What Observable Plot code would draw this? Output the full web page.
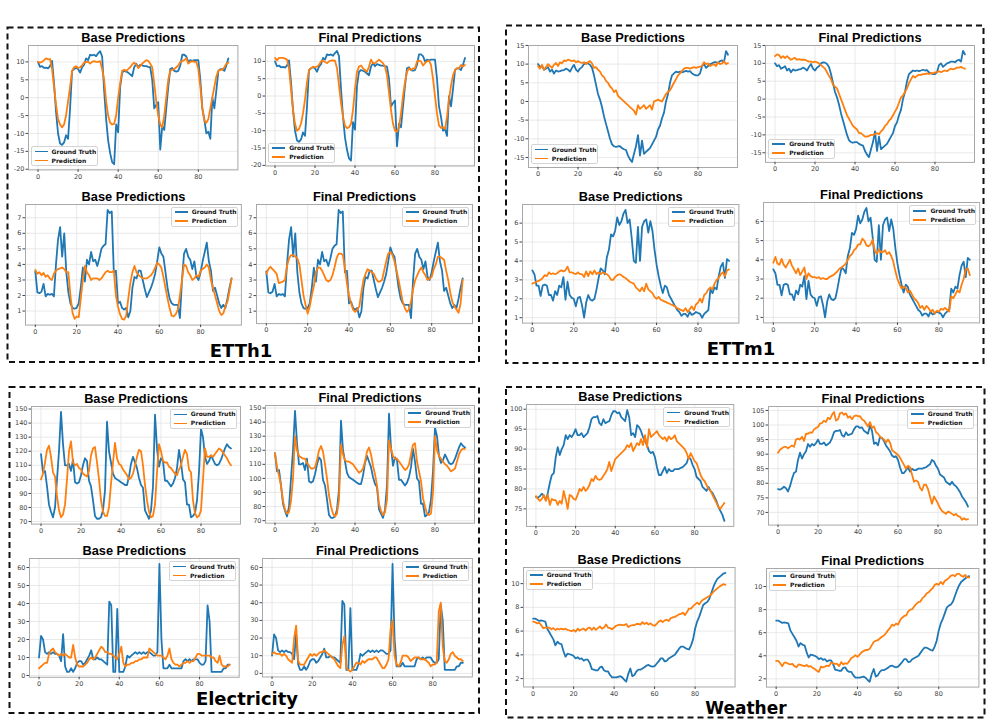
<!DOCTYPE html>
<html>
<head>
<meta charset="utf-8">
<title>Base vs final predictions</title>
<script src="https://cdn.jsdelivr.net/npm/d3@7"></script>
<script src="https://cdn.jsdelivr.net/npm/@observablehq/plot@0.6"></script>
<style>
  html, body { margin: 0; padding: 0; background: #fff; }
  #page { position: relative; width: 992px; height: 726px; overflow: hidden; background: #fff; }
  .legend { position: absolute; box-sizing: border-box; width: 67px; height: 20px; background: rgba(255,255,255,0.85);
            border: 1px solid #d4d4d4; border-radius: 2px; font: bold 6px "DejaVu Sans", sans-serif; color: #111; }
  .legend .sw { position: absolute; left: 3px; width: 13px; height: 1.8px; }
  .legend .lb { position: absolute; left: 20px; line-height: 6px; white-space: nowrap; }
  #overlay { position: absolute; left: 0; top: 0; pointer-events: none; }
</style>
</head>
<body>
<div id="page"></div>
<script>
// ---------- time axis ----------
const xTicks = [0, 20, 40, 60, 80];

// ---------- ETTh1 ----------
const etth1TopTicks = [-20, -15, -10, -5, 0, 5, 10];
const etth1TopTruth = [
  10, 8.6, 8.8, 8.3, 8.4, 8.2, 8.8, 10.3, 4, -4,
  -10, -12.8, -13.2, -12.5, -10.5, -11.5, -3, 7.5, 8, 8.3,
  8, 7, 8.5, 9.2, 11, 10.5, 12, 11.8, 12, 11.6,
  12.4, 13, 11.5, 2, -6, -12, -15.5, -18, -18.6, -7.5,
  -9.7, 3, 7, 7.5, 7.3, 7, 6.5, 6, 8.5, 9.5,
  8.6, 9.2, 9, 8.8, 8.8, 8.6, 8.5, 5, -3, -2,
  -1.3, -14.5, -8, -9, -3, 3, 8, 8.3, 7.5, 7.3,
  7.5, 9, 12, 12, 11.5, 10, 10.5, 10.3, 10.5, 10.5,
  10.5, 5, -3, -6, -10, -9.5, -11.5, 0, -3, 2,
  7.5, 8, 8, 7.5, 9, 11
];
const etth1TopBase = [
  10, 9.8, 10, 10.5, 11, 10.7, 10.8, 8, 3, -2,
  -6, -7.5, -8.3, -7.5, -5, -1, 3, 7.5, 8.5, 8.8,
  8.3, 8.5, 9, 9.8, 10, 10, 9.5, 10, 10.2, 10,
  10, 10.2, 8, 5, -1, -5, -7, -7.5, -7.3, -5,
  0, 4, 7.5, 7.8, 7.5, 8, 8.5, 9.3, 9.8, 9.3,
  8.3, 8.8, 9.5, 10, 10.5, 10.3, 9.5, 8.5, 4, -1,
  -5, -7.5, -8.3, -5, 0, 5, 7.5, 7.8, 8, 8.5,
  9, 10, 10.2, 10.5, 11, 9.5, 10, 10.2, 10, 10,
  8, 3, -3, -6.5, -7, -6, -3, 0, 3, 6,
  7.5, 7.8, 7.8, 8.5, 9.5, 9.8
];
const etth1TopFinal = [
  11, 10.3, 11, 11, 11, 10.8, 10.5, 8, 2, -4,
  -8, -10, -9.5, -8, -5, -1, 4, 7.5, 8, 8.5,
  8.3, 8.5, 9, 10, 10.2, 9.8, 9.5, 10, 10.2, 10.3,
  10.2, 8, 3, -2, -6, -8.5, -9.3, -9, -8, -4,
  2, 7, 8.5, 8.8, 8, 7.5, 7, 8.5, 10.5, 9.5,
  9.5, 10, 10.5, 10, 9.5, 8.5, 6, 1, -4, -8,
  -10, -10.3, -9, -5, 0, 4, 7, 8, 7.5, 8,
  8, 10, 10.2, 10, 8.8, 9.5, 10, 10.2, 9, 5,
  0, -5, -8.5, -9.2, -9, -9.5, -6, -1, 3, 6,
  7.5, 8, 8, 9, 8.5, 9
];
const etth1BottomTicks = [1, 2, 3, 4, 5, 6, 7];
const etth1BottomTruth = [
  3.55, 2.2, 2.15, 2.25, 2.75, 1.95, 2.1, 2.05, 2.1, 1.95,
  4.0, 5.6, 6.4, 4.5, 6.0, 3.5, 2.2, 1.5, 1.2, 1.15,
  1.2, 1.5, 2.5, 3.8, 2.9, 4.3, 4.0, 4.8, 4.2, 4.3,
  3.9, 4.4, 5.0, 5.2, 5.3, 7.5, 7.3, 7.4, 3.5, 3.6,
  1.5, 1.6, 1.2, 1.1, 1.2, 0.6, 1.0, 2.5, 3.2, 3.1,
  3.6, 3.6, 3.0, 2.4, 1.9, 2.2, 2.5, 2.9, 3.4, 4.2,
  5.1, 4.7, 4.5, 3.5, 2.5, 1.8, 1.5, 1.4, 1.4, 1.4,
  0.55, 3.0, 4.7, 5.0, 4.5, 4.3, 3.7, 4.2, 3.2, 3.0,
  3.5, 4.2, 4.8, 5.4, 4.2, 3.6, 2.3, 2.5, 2.0, 1.5,
  1.2, 1.4, 1.2, 1.8, 2.5, 3.1
];
const etth1BottomBase = [
  3.65, 3.4, 3.5, 3.3, 3.45, 3.2, 3.3, 3.1, 3.0, 3.4,
  3.6, 3.7, 3.75, 3.8, 3.7, 3.5, 3.5, 2.0, 0.9, 0.5,
  0.65, 0.6, 1.8, 3.0, 3.9, 3.5, 3.3, 3.0, 3.1, 3.1,
  3.1, 3.0, 3.1, 3.3, 3.5, 3.6, 3.5, 3.5, 3.6, 2.0,
  1.3, 0.8, 0.5, 0.45, 0.7, 1.8, 2.8, 3.5, 3.9, 3.5,
  3.3, 3.2, 3.1, 3.1, 3.1, 3.2, 3.3, 3.5, 3.8, 4.1,
  4.0, 3.8, 3.2, 2.5, 1.8, 1.2, 0.7, 0.65, 0.8, 1.1,
  2.0, 3.0, 4.0, 3.9, 3.5, 3.3, 3.0, 3.1, 3.3, 3.2,
  3.6, 3.7, 3.8, 4.0, 3.8, 3.0, 2.5, 2.0, 1.5, 1.0,
  0.75, 0.85, 1.3, 1.6, 2.3, 3.1
];
const etth1BottomFinal = [
  3.4, 3.7, 3.85, 3.7, 3.55, 3.4, 2.8, 2.85, 2.9, 3.0,
  3.9, 4.4, 4.6, 4.6, 4.5, 4.4, 4.0, 3.0, 2.0, 1.4,
  0.85, 1.3, 2.0, 2.6, 3.5, 3.8, 3.8, 3.6, 3.3, 3.0,
  2.9, 3.0, 3.3, 3.8, 4.4, 4.7, 4.7, 4.6, 3.8, 2.8,
  2.0, 1.5, 1.1, 0.95, 1.1, 1.3, 2.2, 3.0, 3.4, 3.7,
  3.6, 3.5, 3.4, 3.1, 2.9, 2.9, 3.0, 3.6, 4.2, 4.7,
  4.8, 4.6, 4.2, 3.6, 3.0, 2.3, 1.6, 1.2, 0.95, 1.1,
  1.6, 2.4, 3.0, 3.3, 3.6, 3.8, 3.5, 3.3, 3.0, 3.1,
  3.2, 3.7, 4.0, 4.5, 4.5, 4.4, 4.3, 3.6, 3.0, 2.2,
  1.6, 1.3, 1.1, 0.9, 1.5, 3.0
];

// ---------- ETTm1 ----------
const ettm1TopTicks = [-15, -10, -5, 0, 5, 10, 15];
const ettm1TopTruth = [
  10, 9.2, 9.5, 8.5, 8.8, 9.2, 8, 8.5, 7.5, 8.3,
  8.0, 8.1, 8.3, 8.4, 8.8, 8.5, 8.0, 9.0, 9.8, 8.5,
  8.0, 8.8, 9.2, 10.0, 10.3, 10.2, 9.8, 9.0, 7.0, 4.5,
  2.0, 0.5, -1.5, -4.0, -6.0, -8.0, -10.0, -11.5, -12.0, -12.2,
  -12.0, -12.0, -12.5, -12.8, -13.0, -14.5, -15.5, -16.2, -14.0, -12.0,
  -9.0, -14.5, -10.5, -14.0, -13.5, -13.0, -12.5, -11.5, -10.5, -9.5,
  -7.5, -6.5, -4.5, -3.0, 0.0, 2.0, 5.0, 7.0, 7.5, 8.0,
  7.8, 8.0, 7.8, 8.0, 8.2, 8.0, 8.1, 7.5, 7.2, 7.0,
  7.0, 7.5, 9.5, 10.0, 9.0, 9.5, 10.0, 10.2, 10.5, 10.5,
  10.3, 10.8, 11.0, 10.5, 13.5, 12.5
];
const ettm1TopBase = [
  9.5, 8.8, 9.8, 8.5, 9.2, 10.0, 9.5, 9.0, 9.8, 10.3,
  9.5, 10.5, 10.2, 11.0, 10.8, 11.2, 11.0, 10.8, 11.0, 10.5,
  10.8, 10.5, 10.3, 10.5, 10.0, 10.5, 10.8, 10.2, 9.0, 9.2,
  8.5, 8.0, 7.0, 6.5, 5.5, 5.0, 4.0, 3.5, 2.5, 3.0,
  1.5, 1.0, 0.5, 0.0, -0.5, -1.0, -1.5, -2.0, -2.5, -3.5,
  -1.0, -2.0, -1.5, -1.0, -2.0, -1.5, -1.0, -2.2, 0.0, 0.2,
  0.5, 0.2, 0.0, 1.0, 2.0, 2.5, 3.0, 4.0, 5.0, 6.0,
  7.0, 7.5, 8.2, 8.8, 9.0, 9.0, 8.8, 9.0, 9.2, 9.0,
  9.2, 9.3, 9.5, 10.5, 10.0, 10.2, 9.5, 9.8, 10.0, 9.5,
  10.5, 10.0, 10.2, 10.8, 10.0, 10.3
];
const ettm1TopFinal = [
  12, 12.5, 12.3, 11.5, 12, 11.5, 12, 11.5, 11, 11.3,
  11.5, 11, 11.2, 11, 11, 11, 10.7, 10.5, 10.5, 10.3,
  10.5, 10.3, 10.0, 9.5, 9.0, 8.5, 7.5, 6.5, 5.5, 4.0,
  3.5, 3.0, 1.5, 0.0, -1.5, -3.0, -4.5, -5.5, -6.5, -7.5,
  -8.0, -8.5, -9.5, -9.5, -10.0, -10.5, -10.5, -10.3, -10.0, -10.0,
  -9.8, -9.5, -9.8, -9.0, -8.5, -7.5, -7.0, -6.0, -5.5, -4.5,
  -3.5, -2.5, -1.0, 0.5, 1.0, 2.0, 3.0, 4.5, 5.5, 6.5,
  6.0, 6.5, 6.8, 6.8, 7.0, 7.0, 7.2, 7.0, 7.3, 7.2,
  7.5, 7.5, 7.8, 7.5, 7.8, 8.0, 7.8, 8.2, 8.5, 8.3,
  8.5, 8.8, 8.8, 9.0, 8.7, 8.5
];
const ettm1BottomTicks = [1, 2, 3, 4, 5, 6];
const ettm1BottomTruth = [
  3.5, 3.3, 2.7, 2.7, 2.15, 2.7, 2.75, 2.7, 2.2, 2.2,
  1.9, 2.4, 2.2, 2.7, 2.6, 3.15, 1.95, 2.9, 2.2, 2.05,
  2.0, 1.6, 2.05, 2.1, 1.65, 1.0, 1.8, 2.2, 1.95, 1.9,
  2.0, 2.5, 3.1, 3.6, 3.5, 3.3, 4.2, 4.6, 5.4, 5.3,
  5.6, 6.3, 5.9, 6.1, 6.5, 6.7, 6.0, 6.2, 5.2, 4.0,
  3.9, 5.8, 4.0, 5.8, 6.1, 6.2, 5.5, 6.1, 5.6, 4.6,
  3.8, 3.2, 2.7, 2.3, 2.7, 2.6, 2.2, 2.0, 1.8, 1.6,
  1.4, 1.3, 1.1, 1.2, 1.2, 1.05, 1.3, 1.15, 1.2, 1.3,
  1.25, 1.2, 1.0, 1.2, 1.3, 1.4, 2.5, 2.3, 2.6, 2.5,
  3.2, 3.7, 3.9, 3.1, 4.1, 4.0
];
const ettm1BottomBase = [
  2.8, 2.85, 2.9, 2.95, 3.0, 3.1, 3.25, 3.2, 3.4, 3.3,
  3.35, 3.3, 3.35, 3.45, 3.5, 3.45, 3.5, 3.7, 3.4, 3.4,
  3.35, 3.3, 3.4, 3.3, 3.3, 3.15, 3.45, 3.2, 3.45, 3.3,
  3.5, 3.3, 3.4, 3.3, 3.4, 3.35, 3.3, 3.2, 3.0, 3.0,
  3.15, 3.25, 3.3, 3.25, 3.15, 3.1, 3.0, 2.9, 2.85, 2.8,
  2.6, 2.5, 2.4, 2.6, 2.4, 2.8, 2.5, 2.4, 2.3, 2.1,
  2.0, 2.1, 1.95, 1.9, 1.85, 1.8, 1.75, 1.7, 1.65, 1.6,
  1.5, 1.45, 1.4, 1.35, 1.5, 1.3, 1.45, 1.6, 1.4, 1.7,
  1.8, 2.0, 1.8, 2.2, 2.3, 2.5, 2.6, 2.5, 2.8, 3.0,
  3.1, 3.3, 3.4, 3.2, 3.5, 3.55
];
const ettm1BottomFinal = [
  3.85, 4.15, 3.8, 3.75, 4.05, 3.75, 3.6, 3.8, 4.0, 3.7,
  3.5, 3.3, 3.55, 3.2, 3.4, 3.6, 3.0, 3.3, 3.15, 3.1,
  3.1, 3.05, 3.1, 3.0, 3.05, 3.0, 3.0, 3.1, 3.15, 3.2,
  3.3, 3.4, 3.55, 3.6, 3.7, 3.8, 4.0, 4.2, 4.3, 4.5,
  4.6, 4.8, 4.8, 5.1, 5.0, 4.75, 4.7, 4.8, 5.05, 4.5,
  4.3, 4.55, 4.4, 4.4, 4.5, 4.3, 4.4, 4.2, 3.9, 3.4,
  3.0, 2.75, 2.5, 2.6, 2.55, 2.3, 2.4, 2.2, 2.0, 1.9,
  1.75, 1.5, 1.6, 1.4, 1.6, 1.5, 1.3, 1.4, 1.2, 1.35,
  1.3, 1.45, 1.4, 1.5, 1.4, 1.3, 2.1, 2.0, 2.2, 2.4,
  2.3, 2.7, 3.0, 3.5, 3.55, 3.2
];

// ---------- Electricity ----------
const elecTopTicks = [70, 80, 90, 100, 110, 120, 130, 140, 150];
const elecTopTruth = [
  118, 105, 106, 95, 82, 77, 73, 80, 100, 120,
  148, 125, 110, 110, 111, 106, 114, 98, 97, 98,
  103, 110, 115, 113, 99, 95, 85, 74, 72, 72,
  73, 78, 92, 141, 120, 112, 104, 101, 100, 99,
  98, 97, 96, 96, 102, 111, 116, 112, 108, 101,
  96, 94, 78, 75, 72, 78, 95, 146, 122, 109,
  115, 113, 99, 99, 97, 95, 97, 101, 108, 121,
  112, 100, 98, 82, 82, 73, 74, 76, 85, 105,
  136, 130, 116, 111, 113, 117, 114, 111, 110, 111,
  114, 118, 122, 125, 123, 122
];
const elecTopBase = [
  100, 104, 112, 121, 124, 116, 105, 102, 88, 78,
  73, 75, 82, 100, 120, 127, 112, 110, 111, 108,
  107, 104, 103, 102, 106, 117, 122, 123, 112, 100,
  85, 77, 74, 74, 80, 97, 112, 126, 115, 111,
  110, 107, 105, 103, 100, 101, 104, 110, 116, 121,
  120, 110, 96, 85, 77, 73, 74, 82, 105, 125,
  120, 113, 112, 112, 109, 108, 106, 104, 103, 107,
  110, 116, 121, 118, 107, 105, 85, 76, 73, 74,
  78, 100, 122, 116, 116, 117, 116, 118, 120, 122,
  121, 119, 117, 115, 112, 110
];
const elecTopFinal = [
  118, 108, 102, 95, 84, 78, 75, 76, 84, 100,
  130, 120, 116, 115, 114, 114, 111, 109, 107, 107,
  108, 113, 120, 123, 119, 110, 100, 88, 80, 75,
  73, 75, 85, 124, 117, 113, 112, 112, 111, 110,
  108, 106, 104, 105, 107, 112, 119, 122, 117, 109,
  103, 95, 82, 77, 74, 76, 85, 127, 121, 116,
  114, 114, 112, 110, 108, 106, 107, 110, 117, 124,
  125, 112, 105, 98, 86, 80, 75, 74, 75, 90,
  130, 120, 116, 114, 112, 110, 109, 107, 105, 106,
  107, 112, 117, 120, 121, 121
];
const elecBottomTicks = [0, 10, 20, 30, 40, 50, 60];
const elecBottomTruth = [
  10, 22, 20, 13, 12, 13, 12, 13, 12, 12,
  11, 8, 23, 5, 2, 2, 4, 2, 4, 7,
  8, 8, 6, 7, 9, 11, 14, 9, 9, 10,
  9, 9, 8, 7, 6, 41, 39, 2, 2, 37,
  2, 2, 2, 5, 11, 10, 11, 12, 13, 12,
  13, 12, 13, 12, 13, 13, 12, 11, 11, 13,
  62, 20, 4, 4, 4, 6, 4, 4, 4, 4,
  4, 4, 8, 9, 8, 9, 8, 9, 9, 9,
  7, 6, 6, 8, 39, 30, 2, 2, 2, 2,
  2, 2, 4, 4, 6, 6
];
const elecBottomBase = [
  4, 5, 6, 7, 7, 12, 14, 15, 13, 12,
  11, 12, 11, 12, 11, 10, 10, 17, 10, 6,
  5, 5, 5, 6, 7, 9, 10, 9, 10, 12,
  14, 16, 15, 13, 13, 12, 12, 11, 10, 9,
  12, 16, 7, 5, 6, 6, 7, 7, 8, 8,
  9, 9, 10, 10, 10, 15, 14, 13, 12, 11,
  11, 11, 10, 9, 11, 15, 9, 7, 6, 6,
  5, 6, 7, 7, 8, 7, 8, 8, 10, 12,
  12, 11, 11, 11, 11, 11, 10, 10, 8, 7,
  11, 6, 5, 5, 5, 6
];
const elecBottomFinal = [
  11, 12, 11, 11, 11, 10, 11, 10, 8, 7,
  6, 20, 27, 7, 5, 5, 5, 7, 9, 11,
  10, 11, 10, 11, 12, 12, 13, 12, 11, 10,
  9, 8, 6, 4, 3, 16, 21, 3, 2, 1,
  2, 4, 6, 6, 5, 7, 6, 7, 8, 8,
  8, 9, 9, 7, 5, 3, 3, 5, 8, 25,
  30, 10, 5, 4, 6, 10, 10, 10, 9, 7,
  8, 9, 9, 9, 8, 8, 8, 7, 6, 4,
  5, 5, 6, 35, 40, 15, 7, 6, 8, 11,
  12, 10, 9, 8, 8, 7
];

// ---------- Weather ----------
const weatherTopBaseTicks = [75, 80, 85, 90, 95, 100];
const weatherTopFinalTicks = [70, 75, 80, 85, 90, 95, 100, 105];
const weatherTopTruth = [
  78, 77.8, 78.2, 78.8, 78.3, 77.2, 79, 81.5, 83.5, 84,
  88, 90.5, 88.5, 90, 91, 93.5, 92.5, 93.5, 93, 93.8,
  95, 93.5, 93.5, 94, 93, 93.5, 94, 95.5, 97.5, 98,
  98, 98.3, 96.5, 96, 97.5, 96.5, 96.8, 97, 98.5, 99.5,
  99.5, 99, 99.2, 98, 97.5, 97, 99.8, 98, 93.5, 94,
  93, 96, 95.5, 94.5, 93, 92, 91, 89.5, 89, 89.3,
  88, 85.5, 83.5, 83.5, 84.5, 85.5, 84, 85, 84.5, 84.5,
  85, 85, 85, 85.3, 85.5, 86, 86.5, 88, 87.5, 86,
  85, 83, 82.5, 82, 80.5, 80, 79.5, 80.5, 79.5, 79,
  78, 77, 75.5, 74.5, 73.5, 72
];
const weatherTopBase = [
  78.2, 77.5, 77, 77.5, 78.5, 77, 78.5, 76, 77.5, 77.2,
  77.2, 76, 77, 76.3, 79.5, 77.5, 75, 78.5, 78.2, 77.5,
  77.3, 78.5, 80, 79.5, 80.5, 79.5, 80, 81, 82.5, 82,
  83.3, 82.5, 82.3, 82.5, 83.3, 84, 85, 86.8, 84.5, 86,
  87.5, 88, 88.5, 89, 89.5, 90, 91, 90.5, 91.5, 89.5,
  90.5, 91.5, 91, 92.5, 91, 93.5, 90.5, 95, 93, 93.5,
  94, 94.5, 93.5, 93, 92.5, 93, 92, 93.2, 92.5, 92.8,
  93.5, 92, 91.5, 91, 90.5, 90, 89, 87.5, 89, 88,
  87, 86.5, 85, 83.5, 82.5, 82, 81, 80, 79.5, 78.5,
  77.5, 76.5, 75.5, 75, 75.8, 76.5
];
const weatherTopFinal = [
  90.5, 91.5, 92, 92.5, 92.5, 92, 92.5, 93, 92.5, 95,
  95.3, 95, 96, 94.5, 97, 97, 97.5, 97.3, 98.5, 99,
  99.3, 100.5, 100.7, 101.5, 101, 102.5, 102, 103.5, 104.5, 101.5,
  102, 104, 104.3, 103.5, 104, 102.5, 103, 102, 103, 103.3,
  103, 103, 102, 101.5, 100.5, 99.5, 101, 99, 99.5, 97.5,
  97, 96, 95.5, 95, 94, 95, 94, 91.5, 90.8, 90.3,
  89.8, 88.8, 87.5, 86.3, 85, 86, 85.5, 83, 80.5, 81,
  80.5, 78.5, 77.5, 79.5, 79.5, 78, 75.5, 73, 75.5, 74.3,
  73, 71.5, 70.5, 70, 69.5, 70.3, 70, 69.5, 69, 69.5,
  68.7, 68.5, 67.5, 68, 67.5, 67.7
];
const weatherBottomTicks = [2, 4, 6, 8, 10];
const weatherBottomTruth = [
  7.05, 7.05, 6.95, 6.85, 6.9, 6.85, 6.8, 6.2, 5.9, 5.6,
  5.3, 4.8, 5.1, 4.95, 4.9, 4.3, 3.85, 4.1, 4.05, 4.0,
  3.9, 3.7, 3.8, 3.65, 3.7, 3.5, 3.6, 3.6, 3.3, 2.8,
  2.75, 2.7, 2.7, 2.95, 3.0, 2.7, 2.6, 2.6, 2.3, 2.1,
  2.1, 2.1, 2.15, 2.2, 2.1, 1.9, 1.75, 2.4, 2.85, 2.2,
  2.3, 2.6, 2.75, 2.75, 2.85, 2.95, 3.1, 3.15, 3.05, 3.0,
  3.05, 3.25, 3.45, 3.7, 3.7, 3.45, 3.5, 3.7, 3.8, 3.9,
  4.0, 4.25, 4.5, 4.7, 4.7, 4.6, 4.5, 4.45, 4.8, 5.3,
  6.2, 6.8, 7.2, 7.7, 8.2, 8.35, 8.45, 8.7, 9.2, 9.7,
  10.1, 10.4, 10.55, 10.7, 10.85, 10.9
];
const weatherBottomBase = [
  6.8, 6.75, 6.65, 6.7, 6.5, 6.25, 6.3, 6.3, 6.3, 6.15,
  6.25, 6.1, 6.2, 6.15, 6.2, 6.15, 6.2, 6.1, 6.05, 6.0,
  6.1, 5.95, 6.2, 6.05, 6.15, 6.2, 6.05, 6.25, 6.3, 6.1,
  6.3, 6.1, 6.25, 6.4, 6.2, 6.3, 6.55, 6.3, 6.25, 6.15,
  6.3, 6.45, 6.5, 6.55, 6.5, 6.5, 6.6, 6.35, 6.45, 6.5,
  6.5, 6.6, 6.6, 6.55, 6.75, 6.6, 6.7, 6.55, 6.65, 6.5,
  6.45, 6.6, 6.8, 6.9, 6.75, 6.9, 6.95, 6.85, 7.1, 7.15,
  7.2, 7.3, 7.4, 7.45, 7.55, 7.35, 7.6, 7.9, 7.9, 8.1,
  8.25, 8.4, 8.25, 8.5, 8.65, 8.75, 8.85, 8.95, 9.1, 9.3,
  9.45, 9.6, 9.75, 9.85, 9.95, 9.9
];
const weatherBottomFinal = [
  3.55, 3.55, 3.35, 3.1, 3.4, 3.4, 3.3, 3.25, 3.3, 3.1,
  3.0, 3.25, 3.2, 3.15, 3.1, 3.2, 3.05, 3.1, 2.95, 2.85,
  2.7, 2.6, 3.05, 3.0, 3.05, 3.15, 3.1, 3.4, 3.35, 3.3,
  3.3, 3.1, 3.45, 3.25, 3.35, 3.3, 3.55, 3.8, 3.9, 4.05,
  3.9, 4.1, 4.3, 4.4, 4.5, 4.5, 4.6, 4.9, 5.2, 5.3,
  5.35, 5.5, 5.65, 5.75, 5.95, 6.2, 6.4, 6.7, 6.6, 6.8,
  6.7, 7.1, 7.3, 7.45, 7.5, 7.85, 8.0, 8.05, 8.3, 8.5,
  8.65, 8.7, 9.0, 9.15, 9.4, 9.5, 9.7, 9.85, 10.15, 10.25,
  10.15, 10.4, 10.2, 10.5, 10.6, 10.75, 10.95, 11.0, 10.9, 11.1,
  11.1, 10.95, 10.85, 11.0, 10.8, 10.8
];

const seriesNames = ["Ground Truth", "Prediction"];
const BASE = "Base Predictions", FINAL = "Final Predictions";

// ---------- layout ----------
const COLORS = {truth: "#1f77b4", pred: "#ff7f0e"};
const M = {l: 26, r: 6, t: 20, b: 16};

// frame: [left, top, right, bottom] of each axes box on the page
const panels = [
  {frame: [27.5, 44.9, 236.9, 169.3], title: BASE,  truth: etth1TopTruth, pred: etth1TopBase,  ticks: etth1TopTicks, legend: "ll"},
  {frame: [265.2, 45.4, 474.2, 165.9], title: FINAL, truth: etth1TopTruth, pred: etth1TopFinal, ticks: etth1TopTicks, legend: "ll"},
  {frame: [24.9, 204.1, 240.8, 324.7], title: BASE,  truth: etth1BottomTruth, pred: etth1BottomBase,  ticks: etth1BottomTicks, legend: "ur"},
  {frame: [255.5, 204.1, 471.5, 323.2], title: FINAL, truth: etth1BottomTruth, pred: etth1BottomFinal, ticks: etth1BottomTicks, legend: "ur"},
  {frame: [527.8, 45.3, 736.8, 167.3], title: BASE,  truth: ettm1TopTruth, pred: ettm1TopBase,  ticks: ettm1TopTicks, legend: "ll"},
  {frame: [765.2, 44.7, 974.2, 161.6], title: FINAL, truth: ettm1TopTruth, pred: ettm1TopFinal, ticks: ettm1TopTicks, legend: "ll"},
  {frame: [521.5, 204.1, 737.9, 322.7], title: BASE,  truth: ettm1BottomTruth, pred: ettm1BottomBase,  ticks: ettm1BottomTicks, legend: "ur"},
  {frame: [763.2, 202.4, 979.4, 322.8], title: FINAL, truth: ettm1BottomTruth, pred: ettm1BottomFinal, ticks: ettm1BottomTicks, legend: "ur"},
  {frame: [30.8, 406.2, 239.8, 523.8], title: BASE,  truth: elecTopTruth, pred: elecTopBase,  ticks: elecTopTicks, legend: "ur"},
  {frame: [265.2, 404.5, 474.2, 522.2], title: FINAL, truth: elecTopTruth, pred: elecTopFinal, ticks: elecTopTicks, legend: "ur"},
  {frame: [29.2, 558.3, 238.9, 677.1], title: BASE,  truth: elecBottomTruth, pred: elecBottomBase,  ticks: elecBottomTicks, legend: "ur"},
  {frame: [261.8, 558.4, 471.7, 676.9], title: FINAL, truth: elecBottomTruth, pred: elecBottomFinal, ticks: elecBottomTicks, legend: "ur"},
  {frame: [525.9, 404.3, 733.2, 526.2], title: BASE,  truth: weatherTopTruth, pred: weatherTopBase,  ticks: weatherTopBaseTicks, legend: "ur"},
  {frame: [767.8, 405.8, 976.8, 524.4], title: FINAL, truth: weatherTopTruth, pred: weatherTopFinal, ticks: weatherTopFinalTicks, legend: "ur"},
  {frame: [522.7, 566.9, 734.3, 686.4], title: BASE,  truth: weatherBottomTruth, pred: weatherBottomBase,  ticks: weatherBottomTicks, legend: "ul"},
  {frame: [766.0, 567.7, 978.4, 686.3], title: FINAL, truth: weatherBottomTruth, pred: weatherBottomFinal, ticks: weatherBottomTicks, legend: "ul"}
];

// dashed group boxes with their dataset names
const groups = [
  {name: "ETTh1",       box: [7.5, 27.5, 479, 362],    label: [241, 357], size: 18},
  {name: "ETTm1",       box: [506, 25.5, 983.5, 363],  label: [741, 355], size: 18},
  {name: "Electricity", box: [9.5, 387, 479, 713],     label: [247, 705], size: 18},
  {name: "Weather",     box: [506, 387, 984.5, 717.5], label: [746, 713.5], size: 17}
];

const page = document.getElementById("page");
const fmt = d => String(d);

function drawPanel(p) {
  const [x0, y0, x1, y1] = p.frame;
  const [lo, hi] = d3.extent(p.truth.concat(p.pred));
  const pad = (hi - lo) * 0.05;
  const n = p.truth.length - 1;
  const svg = Plot.plot({
    width: (x1 - x0) + M.l + M.r,
    height: (y1 - y0) + M.t + M.b,
    marginLeft: M.l, marginRight: M.r, marginTop: M.t, marginBottom: M.b,
    style: {fontFamily: "DejaVu Sans, sans-serif", fontSize: "6.5px", color: "#444", background: "transparent", overflow: "visible"},
    x: {domain: [-0.05 * n, n * 1.05]},
    y: {domain: [lo - pad, hi + pad]},
    marks: [
      Plot.gridX({ticks: xTicks, stroke: "#e3e3e3", strokeOpacity: 1, strokeWidth: 0.8}),
      Plot.gridY({ticks: p.ticks, stroke: "#e3e3e3", strokeOpacity: 1, strokeWidth: 0.8}),
      Plot.frame({stroke: "#a8a8a8", strokeWidth: 1}),
      Plot.axisX({ticks: xTicks, tickSize: 2.5, tickPadding: 1.5, tickFormat: fmt, label: null}),
      Plot.axisY({ticks: p.ticks, tickSize: 2.5, tickPadding: 1.5, tickFormat: fmt, label: null}),
      Plot.lineY(p.truth, {stroke: COLORS.truth, strokeWidth: 1.8}),
      Plot.lineY(p.pred, {stroke: COLORS.pred, strokeWidth: 1.8}),
      Plot.text([p.title], {frameAnchor: "top", lineAnchor: "bottom", dy: -3.5, fontSize: 12.8, fontWeight: "bold",
                            fontFamily: "Liberation Sans, Arial, sans-serif", fill: "#000"})
    ]
  });
  svg.style.position = "absolute";
  svg.style.left = (x0 - M.l) + "px";
  svg.style.top = (y0 - M.t) + "px";
  svg.style.maxWidth = "none";
  page.appendChild(svg);

  // legend box inside the axes
  const W = 67, H = 20, off = 3;
  const lg = document.createElement("div");
  lg.className = "legend";
  const left = p.legend.endsWith("l") ? x0 + off : x1 - off - W;
  const top = p.legend.startsWith("u") ? y0 + off : y1 - off - H;
  lg.style.left = left + "px";
  lg.style.top = top + "px";
  [COLORS.truth, COLORS.pred].forEach((c, i) => {
    const cy = 4.3 + i * 9;
    const sw = document.createElement("div");
    sw.className = "sw";
    sw.style.top = (cy - 0.9) + "px";
    sw.style.background = c;
    const lb = document.createElement("div");
    lb.className = "lb";
    lb.style.top = (cy - 3) + "px";
    lb.textContent = seriesNames[i];
    lg.appendChild(sw);
    lg.appendChild(lb);
  });
  page.appendChild(lg);
}

panels.forEach(drawPanel);

// overlay with the dashed group outlines and dataset names
const overlay = d3.select(page).append("svg")
  .attr("id", "overlay").attr("width", 992).attr("height", 726);
groups.forEach(g => {
  const [a, b, c, d] = g.box;
  overlay.append("rect")
    .attr("x", a).attr("y", b).attr("width", c - a).attr("height", d - b)
    .attr("fill", "none").attr("stroke", "#111").attr("stroke-width", 2)
    .attr("stroke-dasharray", "6,4");
  overlay.append("text")
    .attr("x", g.label[0]).attr("y", g.label[1])
    .attr("text-anchor", "middle")
    .attr("font-family", "Comic Sans MS, DejaVu Sans, sans-serif")
    .attr("font-weight", "bold").attr("font-size", g.size).attr("fill", "#000")
    .text(g.name);
});
</script>
</body>
</html>
